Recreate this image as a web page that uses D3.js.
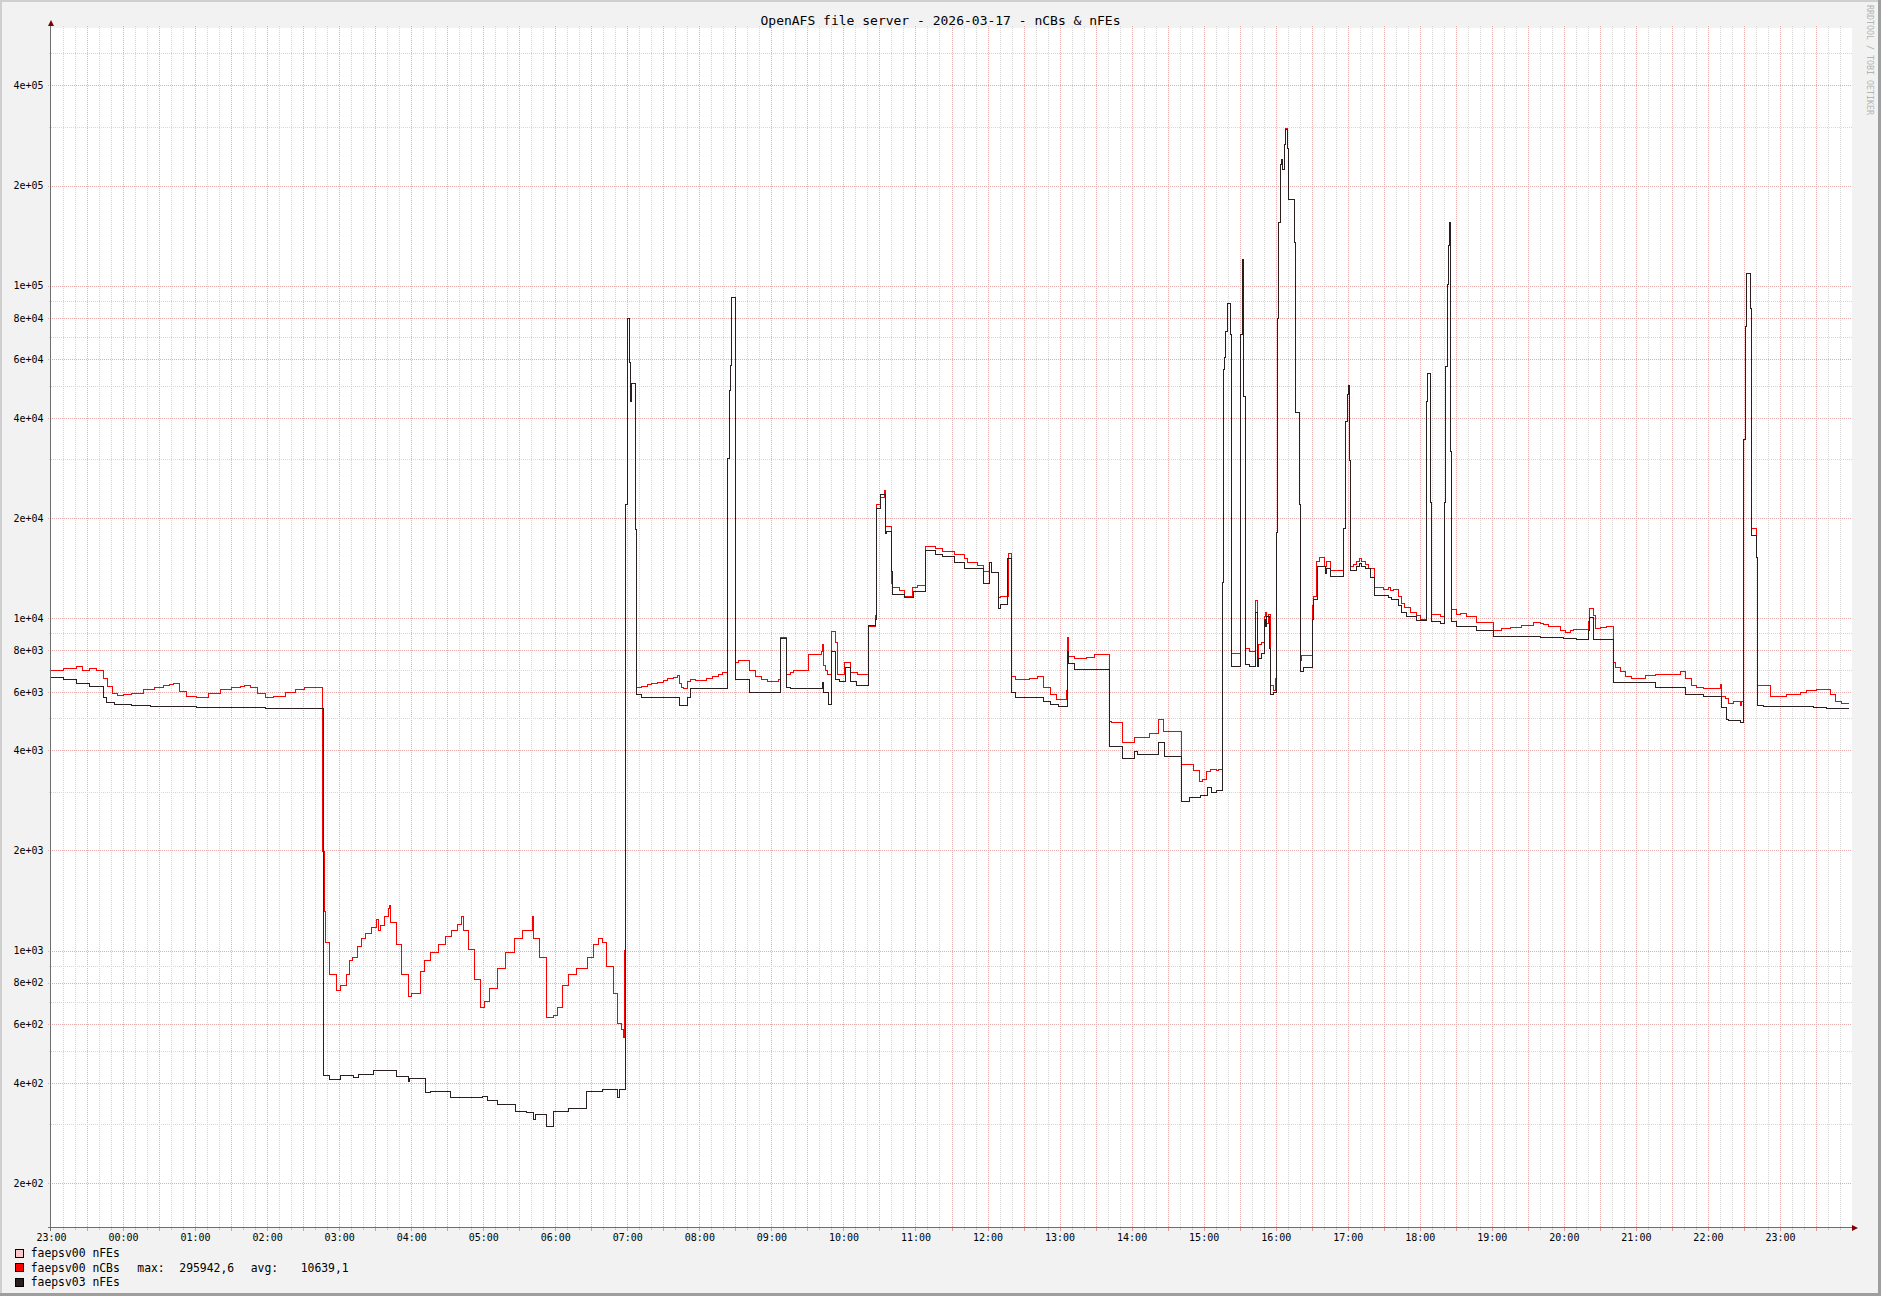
<!DOCTYPE html>
<html><head><meta charset="utf-8">
<script src="https://cdn.jsdelivr.net/npm/d3@7"></script>
<style>
html,body{margin:0;padding:0;background:#f2f2f2;}
svg{display:block;}
text{font-family:"DejaVu Sans Mono",monospace;}
</style></head><body>
<svg id="chart" width="1881" height="1296"></svg>
<script>
// ---- data ----
const chartTitle = "OpenAFS file server - 2026-03-17 - nCBs & nFEs";
const startTime = new Date(2026, 2, 16, 23, 0, 0);
const endTime = new Date(2026, 2, 18, 0, 0, 0);
const yTickValues = [200, 400, 600, 800, 1000, 2000, 4000, 6000, 8000, 10000, 20000, 40000, 60000, 80000, 100000, 200000, 400000];
const yTickLabels = ["2e+02","4e+02","6e+02","8e+02","1e+03","2e+03","4e+03","6e+03","8e+03","1e+04","2e+04","4e+04","6e+04","8e+04","1e+05","2e+05","4e+05"];
const yMinorValues = [300,500,700,900,3000,5000,7000,9000,30000,50000,70000,90000,300000,500000];
const seriesNames = ["faepsv00 nFEs", "faepsv00 nCBs", "faepsv03 nFEs"];
const seriesColors = ["#ffc8c8", "#ff0000", "#2a1e1e"];
const nCBsStats = ["max:", "295942,6", "avg:", "10639,1"];
// [minutes since 23:00, value]
const nFEs00 = [];
const nCBs00 = [
[0,6970],[10,7030],[21,7150],[26,6970],[32,7030],[38,6970],[43.5,6580],[47,6220],[51,5940],[55,5850],[60,5880],[67,5940],[77,6080],[86,6170],[94,6250],[99,6320],[102,6360],[107,6030],[113,5810],[121,5765],[131,5940],[141,6080],[150,6170],[158,6230],[161,6290],[166,6170],[172,5940],[179,5765],[185,5810],[195,5990],[204,6100],[211,6200],[217,6170],[222,6200],
[226.5,1990],[227.5,1312],[228.5,1057],[232,848],[238,757],[241,786],[246,848],[248.4,932],[250.7,950],[255.5,1025],[258.6,1085],[261.8,1127],[266.6,1171],[271.4,1240],[273,1149],[274.6,1193],[277.8,1263],[281,1337],[281.6,1363],[282.6,1217],[287.4,1045],[292.1,848],[297.6,729],[300.1,743],[308.1,865],[311.2,932],[316,987],[322.5,1045],[328.8,1106],[333.6,1149],[338.4,1200],[341.6,1263],[343.2,1149],[347.4,1006],[352.8,817],[357.6,675],[361.4,702],[365.5,771],[371.9,881],[378.3,987],[386.2,1085],[392.6,1149],[401.2,1263],[402.2,1085],[407,950],[412.4,629],[418.7,638],[421.9,675],[426.1,786],[430.9,848],[437.3,881],[446.9,950],[451.6,1045],[456.3,1085],[459.5,1057],[462.7,898],[468.1,743],[471.6,603],[474.8,580],[477,548],[478,1000],
[478.8,21890],[479.8,48320],[480.5,79840],[481.5,58880],[482.5,44850],[483.1,50760],[486.8,18420],[487.4,6200],[492,6246],[497,6310],[500.2,6357],[505.2,6404],[510.1,6483],[513.4,6564],[518.4,6646],[521.6,6729],[523.3,6357],[524.9,6200],[527.2,6127],[530.5,6436],[532.5,6548],[536.5,6500],[546.3,6597],[551.3,6679],[556.2,6763],[559.5,6846],
[563.5,30200],[565,48320],[565.8,57440],[566.8,91900],[570.5,7375],[572.7,7464],[581.6,6932],[586.5,6679],[591.5,6515],[596.4,6436],[605.6,6515],[607.6,8767],[612.5,6763],[615.5,6846],[618.8,6932],[631,7750],[641.8,7940],[642.5,8347],[643.8,7200],[645.1,6932],[646.8,6763],[650.1,9098],[653.4,8451],[655,6763],[660.9,7375],[665.5,6846],[671.5,6763],[680.7,9441],[686.3,10170],[687.9,21890],[691.2,23000],[693.9,24170],[695.2,18870],[700.1,12700],[701.1,12400],[707.1,12090],[711,11650],[717.6,12400],[721.5,12550],[728.1,16470],[736.7,16190],[742.3,15870],[752.8,15490],[761.1,15110],[763.7,14740],[771.9,14380],[776.9,13850],[781.8,14740],[783.4,13750],[789,11510],[790.7,11650],[797.3,15680],[799.9,6679],[803.2,6515],[814.7,6597],[821.3,6679],[826.9,6200],[832.8,5902],[837.8,5689],[845.4,6052],[847,8767],[847.7,7654],[852.6,7560],[862.5,7616],[869.1,7750],[881.6,4902],[882.9,4842],[892.1,4226],[902,4385],[915.2,4496],[922.4,4964],[926.7,4552],[941.5,3617],[951.4,3468],[956.3,3214],[959.2,3265],[962.6,3457],[965.3,3512],[970.9,3479],[972.3,3512],
[975.3,12800],[976.4,56090],[977.3,60720],[978.4,73020],[980,88320],[982.5,71190],[983.4,7823],[990.6,22670],[990.9,71190],[992.3,120200],[993.1,46340],[994.5,8075],[998.6,7947],[1002.8,11273],[1004.8,7224],[1005.6,8335],[1008.4,8468],[1010.3,10086],[1011.7,10411],[1012.5,9616],[1013.9,10247],[1015.3,7947],[1015.9,6261],[1018.1,6067],[1019.5,6568],
[1020.3,18150],[1021.4,79560],[1022.5,155000],[1023.6,230600],[1025,239600],[1025.9,223400],[1027,265900],[1028.1,295943],[1029.7,257700],[1030.6,181700],[1035.3,134400],[1036.1,41460],[1039.7,21970],[1040.8,7458],[1041.7,7700],[1050.3,9927],[1050.8,10920],[1051.4,11635],[1054.2,14770],[1056.4,15250],[1060.3,14300],[1062.5,14770],[1065.8,13950],
[1076.9,18620],[1078,38920],[1079.4,47090],[1080.3,50180],[1081.4,29710],[1082.2,14300],[1084.7,14540],[1087.5,14770],[1089.7,15100],[1091.7,14770],[1094.4,14540],[1097.2,14080],[1101.9,12400],[1109.7,12200],[1113.9,12400],[1115.3,12090],[1118,12200],[1122.7,11635],[1125,11100],[1126.9,10750],[1131.9,10411],[1137.5,10150],[1140.2,9927],
[1145.2,22320],[1145.8,44890],[1146.6,54330],[1149.1,22320],[1150,10247],[1156.9,10086],[1160.5,22320],[1161.6,56990],[1162.7,100900],[1163.8,132200],[1164.5,155000],[1165.8,31660],[1166.1,10579],[1170.2,10247],[1173.6,10313],[1179.1,10086],[1186.9,9678],[1201.3,9170],[1208.3,9317],[1215.2,9376],[1224.9,9526],[1234.6,9678],
[1240.2,9654],[1243,9535],[1247.1,9419],[1256.9,9189],[1261,9076],[1265.2,9189],[1268,9258],[1280.5,9774],[1281.3,10660],[1284.6,10150],[1286,9303],[1290.2,9349],[1295.7,9419],[1301.3,7356],[1302.7,7088],[1306.8,6915],[1311,6663],[1316.5,6581],[1327.7,6696],[1336,6779],[1356.8,6915],[1361.5,6581],[1366.5,6263],[1370.7,6186],[1376.2,6141],[1390.1,6310],[1391.5,5817],[1394.3,5745],[1397.1,5535],[1401.2,5604],[1406.8,5467],[1408.2,5604],
[1409.6,34510],[1410.9,75200],[1412.1,109000],[1415.1,85130],[1416.5,18600],[1420.1,15260],[1421.2,6263],[1431.8,5817],[1445.6,5889],[1456.8,5992],[1462.3,6066],[1470.6,6111],[1481.7,5889],[1485.9,5604],[1491.5,5535],[1497.5,5535]
];
const nFEs03 = [
[0,6633],[10,6531],[21,6339],[32,6220],[43.5,5765],[46.6,5591],[53,5507],[67.4,5445],[83,5404],[121.5,5383],[178.9,5343],
[226.8,420],[232.2,409],[241.1,420],[251.7,416],[256.2,425],[268.2,435],[287.4,417],[297.6,405],[298.5,412],[312.2,375],[316,378],[332.6,361],[359.1,364],[363.9,354],[371.9,344],[386.8,329],[395.8,325],[402.2,310],[403.7,322],[412.4,295],[418.7,329],[430.9,335],[446.1,378],[459.5,382],[471.6,361],[473.9,382],
[478.8,21890],[479.8,48320],[480.5,79840],[481.5,58880],[482.5,44850],[483.1,50760],[486.8,18420],[487.4,5875],[492,5787],[523.3,5453],[530.5,5787],[532.5,6127],
[563.5,30200],[565,48320],[565.8,57440],[566.8,91900],[570.5,6515],[581.6,5976],[607.6,8660],[612.9,6200],[615.5,6157],[642.5,6389],[643.5,5976],[647.8,5481],[650.1,7940],[653.4,6515],[656.7,6436],[661.6,7104],[665.5,6436],[670.8,6281],[680.7,9512],[686.6,9922],[687.9,21360],[691.2,23580],[695.2,17960],[695.8,18180],[700.1,13850],[701.1,11800],[711,11570],[718.2,12030],[728.1,15950],[736.7,15490],[742.3,15300],[752.2,14740],[761.1,14100],[776.9,12700],[781.8,14740],[783.4,13690],[789,10690],[790.7,10950],[796.6,15110],[799.9,5976],[803.2,5760],[821.3,5787],[826.9,5619],[832.8,5481],[839.4,5413],[847,7940],[847.7,7285],[852.6,7017],[881.6,4123],[892.1,3782],[902,3973],[905.3,3877],[922.4,4226],[927,3828],[941.5,2810],[948.1,2880],[957,2922],[963.1,3093],[966.7,2997],[970.9,3035],
[975.3,12800],[976.4,56090],[977.3,60720],[978.4,73020],[980,88320],[982.5,71190],[983.4,7155],[990.6,22670],[990.9,71190],[992.3,120200],[993.1,46340],[994.5,7271],[998.6,7155],[1002.8,10411],[1004.8,7155],[1005.6,7580],[1008.4,7823],[1010.3,9927],[1011.9,9465],[1012.5,10086],[1014.5,8075],[1015.9,5877],[1018.1,5970],
[1020.3,18150],[1021.4,79560],[1022.5,155000],[1023.6,230600],[1025,239600],[1025.9,223400],[1027,265900],[1028.1,295000],[1029.7,257700],[1030.6,181700],[1035.3,134400],[1036.1,41460],[1039.7,21970],[1040.8,6889],[1043.1,7109],[1050.3,9927],[1051.4,11400],[1054.7,14300],[1061.3,13640],[1062.5,14080],[1065.8,13300],
[1076.9,18620],[1078,38920],[1079.4,47090],[1080.3,50180],[1081.4,29710],[1082.2,13950],[1087.5,14300],[1089.7,14630],[1091.7,14300],[1094.4,14080],[1098.6,13210],[1101.9,11710],[1113.9,11560],[1116.6,11340],[1122.7,10920],[1125,10411],[1129.1,10086],[1137.5,9863],
[1145.2,22320],[1145.8,44890],[1146.6,54330],[1149.1,22320],[1150,9770],[1156.9,9616],[1160.5,22320],[1161.6,56990],[1162.7,100900],[1163.8,132200],[1164.5,155000],[1165.8,31660],[1166.1,9770],[1170.2,9465],[1186.9,9170],[1201.3,8826],[1240.2,8746],[1259.6,8682],[1270.7,8639],[1280.5,9189],[1281.3,10020],[1284.6,8597],[1301.3,6420],[1311,6389],[1336,6186],[1361.5,5889],[1376.2,5817],[1391.5,5400],[1395.7,4951],[1397.1,4914],[1406.8,4866],
[1409.6,34510],[1410.9,75200],[1412.1,109000],[1415.1,85130],[1416.5,17700],[1420.1,15260],[1421.2,5467],[1426.2,5426],[1467.9,5373],[1479,5333],[1497.5,5333]
];

// ---- layout ----
const W = 1881, H = 1296;
const plot = {left: 51, right: 1852, top: 28, bottom: 1228};
const svg = d3.select("#chart");

const x = d3.scaleTime().domain([startTime, endTime]).range([plot.left, plot.right]);
const y = d3.scaleLog().domain([146.4, 595400]).range([plot.bottom, plot.top]);
const toDate = m => new Date(startTime.getTime() + m * 60000);
const px = v => Math.round(v) + 0.5;

// background and frame
svg.append("rect").attr("width", W).attr("height", H).attr("fill", "#f2f2f2");
svg.append("rect").attr("x", 0).attr("y", 0).attr("width", W).attr("height", 2).attr("fill", "#cfcfcf");
svg.append("rect").attr("x", 0).attr("y", 0).attr("width", 2).attr("height", H).attr("fill", "#cfcfcf");
svg.append("rect").attr("x", 0).attr("y", H - 3).attr("width", W).attr("height", 3).attr("fill", "#9e9e9e");
svg.append("rect").attr("x", W - 3).attr("y", 0).attr("width", 3).attr("height", H).attr("fill", "#9e9e9e");

// canvas
svg.append("rect").attr("x", plot.left).attr("y", plot.top)
  .attr("width", plot.right - plot.left).attr("height", plot.bottom - plot.top).attr("fill", "#ffffff");

const minorColor = "#d6d6d6", majorColor = "#e7abab";
const grid = svg.append("g").attr("shape-rendering", "crispEdges");

// vertical grid
const minorTimes = d3.timeMinute.every(10).range(startTime, endTime);
const majorTimes = d3.timeMinute.every(30).range(startTime, endTime);
const majorSet = new Set(majorTimes.map(d => +d));
minorTimes.filter(d => !majorSet.has(+d) && +d !== +startTime).forEach(d => {
  grid.append("line").attr("x1", px(x(d))).attr("x2", px(x(d))).attr("y1", plot.top - 2).attr("y2", plot.bottom)
    .attr("stroke", minorColor).attr("stroke-dasharray", "1,1");
  grid.append("line").attr("x1", px(x(d))).attr("x2", px(x(d))).attr("y1", plot.bottom).attr("y2", plot.bottom + 2)
    .attr("stroke", "#c8c8c8");
});
majorTimes.filter(d => +d !== +startTime).forEach(d => {
  grid.append("line").attr("x1", px(x(d))).attr("x2", px(x(d))).attr("y1", plot.top - 2).attr("y2", plot.bottom)
    .attr("stroke", majorColor).attr("stroke-dasharray", "1,1");
  grid.append("line").attr("x1", px(x(d))).attr("x2", px(x(d))).attr("y1", plot.bottom).attr("y2", plot.bottom + 3)
    .attr("stroke", "#d89a9a");
});
// horizontal grid
yMinorValues.forEach(v => {
  grid.append("line").attr("x1", plot.left - 2).attr("x2", plot.right).attr("y1", px(y(v))).attr("y2", px(y(v)))
    .attr("stroke", minorColor).attr("stroke-dasharray", "1,1");
});
yTickValues.forEach(v => {
  grid.append("line").attr("x1", plot.left - 3).attr("x2", plot.right).attr("y1", px(y(v))).attr("y2", px(y(v)))
    .attr("stroke", majorColor).attr("stroke-dasharray", "1,1");
});

// series
const line = d3.line().x(d => x(toDate(d[0]))).y(d => y(d[1])).curve(d3.curveStepAfter);
const lines = svg.append("g").attr("fill", "none").attr("stroke-width", 1).attr("shape-rendering", "crispEdges");
lines.append("path").datum(nFEs00).attr("d", nFEs00.length ? line : null).attr("stroke", seriesColors[0]);
lines.append("path").datum(nCBs00).attr("d", line).attr("stroke", seriesColors[1]);
lines.append("path").datum(nFEs03).attr("d", line).attr("stroke", seriesColors[2]);

// axes
const axisColor = "#6f6f6f";
const ax = svg.append("g").attr("shape-rendering", "crispEdges");
ax.append("line").attr("x1", px(plot.left) - 1).attr("x2", px(plot.left) - 1).attr("y1", plot.bottom + 3).attr("y2", plot.top - 4)
  .attr("stroke", axisColor);
ax.append("line").attr("x1", plot.left - 3).attr("x2", plot.right + 2).attr("y1", px(plot.bottom) - 1).attr("y2", px(plot.bottom) - 1)
  .attr("stroke", axisColor);
svg.append("path").attr("d", `M${plot.left - 3},${plot.top - 2} L${plot.left + 3},${plot.top - 2} L${plot.left},${plot.top - 8} Z`).attr("fill", "#800000");
svg.append("path").attr("d", `M${plot.right},${plot.bottom - 3} L${plot.right},${plot.bottom + 3} L${plot.right + 6},${plot.bottom} Z`).attr("fill", "#800000");

const yAxis = d3.axisLeft(y).tickValues(yTickValues).tickFormat((d, i) => yTickLabels[i]).tickSize(0).tickPadding(7.5);
const gy = svg.append("g").attr("transform", `translate(${plot.left},0)`).call(yAxis);
gy.select(".domain").remove();
gy.selectAll("text").attr("font-family", "DejaVu Sans Mono").attr("font-size", 10).attr("fill", "#000");

const xLabelTimes = d3.timeHour.range(startTime, endTime);
const xAxis = d3.axisBottom(x).tickValues(xLabelTimes).tickFormat(d3.timeFormat("%H:%M")).tickSize(0).tickPadding(6);
const gx = svg.append("g").attr("transform", `translate(0,${plot.bottom})`).call(xAxis);
gx.select(".domain").remove();
gx.selectAll("text").attr("font-family", "DejaVu Sans Mono").attr("font-size", 10).attr("fill", "#000");

// title
svg.append("text").attr("x", W / 2).attr("y", 20).attr("dy", "0.35em").attr("text-anchor", "middle")
  .attr("font-size", 13).attr("fill", "#000").text(chartTitle);

// watermark
svg.append("text").attr("transform", "translate(1867,5) rotate(90)").attr("font-size", 8.3)
  .attr("fill", "#b4b4b4").text("RRDTOOL / TOBI OETIKER");

// legend
const legendY = [1249.5, 1263.8, 1278];
seriesNames.forEach((name, i) => {
  svg.append("rect").attr("x", 15.5).attr("y", legendY[i]).attr("width", 8).attr("height", 8)
    .attr("fill", seriesColors[i]).attr("stroke", "#000").attr("stroke-width", 1).attr("shape-rendering", "crispEdges");
  svg.append("text").attr("x", 30.7).attr("y", legendY[i] + 4).attr("dy", "0.35em").attr("font-size", 11.4)
    .attr("fill", "#000").text(name);
});
const statX = [137.3, 179.3, 250.7, 300.7];
nCBsStats.forEach((s, i) => {
  svg.append("text").attr("x", statX[i]).attr("y", legendY[1] + 4).attr("dy", "0.35em").attr("font-size", 11.4)
    .attr("fill", "#000").text(s);
});
</script>
</body></html>
